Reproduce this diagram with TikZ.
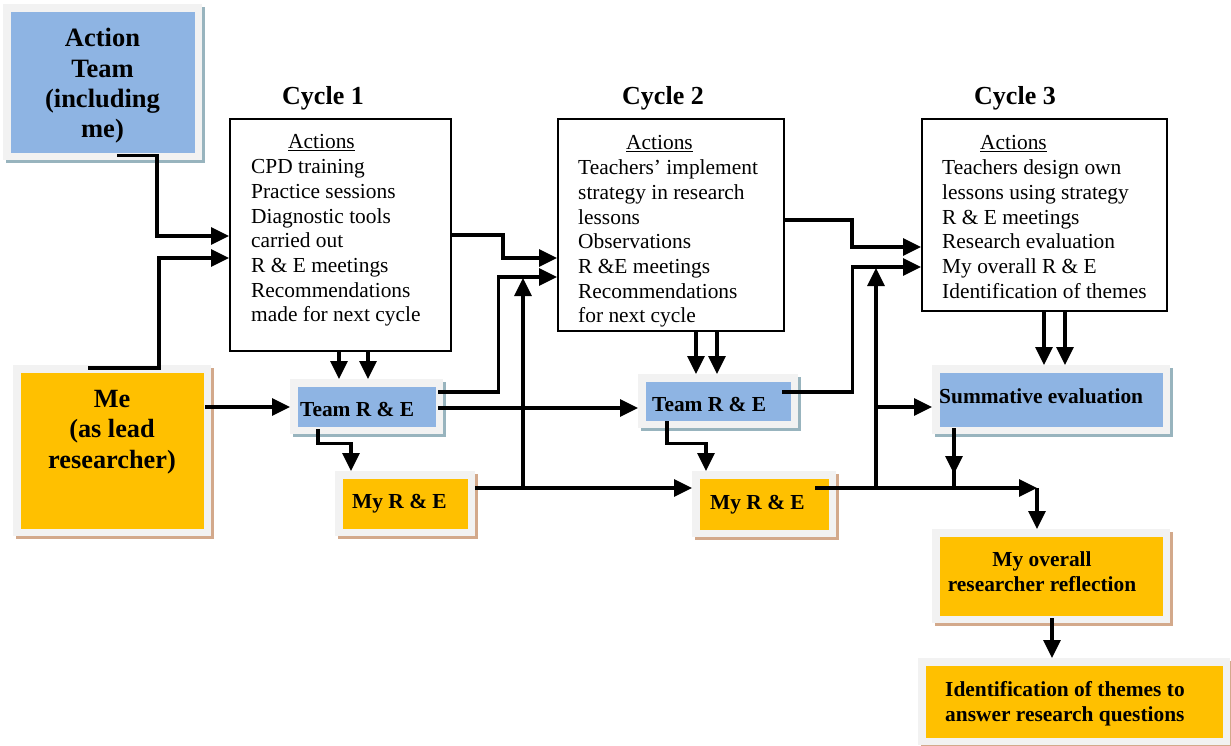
\documentclass[tikz,border=0pt]{standalone}
\usepackage{fontspec}
\setmainfont{Liberation Serif}
\usetikzlibrary{arrows.meta,shadows,calc}
\definecolor{boxblue}{HTML}{8EB4E3}
\definecolor{boxyellow}{HTML}{FFC000}
\definecolor{framegray}{HTML}{F2F2F2}
\definecolor{shblue}{HTML}{98B4BE}
\definecolor{shtan}{HTML}{D3A98B}
\tikzset{
  cbox/.style 2 args={draw=none, fill=framegray, inner sep=0pt, anchor=north west,
    general shadow={shadow xshift=3pt, shadow yshift=-3pt, fill=#2},
    path picture={\fill[#1] ([shift={(7.5pt,-7.5pt)}]path picture bounding box.north west)
      rectangle ([shift={(-7.5pt,7.5pt)}]path picture bounding box.south east);}},
  bluebox/.style={cbox={boxblue}{shblue}},
  yellowbox/.style={cbox={boxyellow}{shtan}},
  cyclebox/.style={draw, line width=2.4pt, fill=white, inner sep=0pt, anchor=north west},
  conn/.style={line width=3.2pt, -{Triangle[length=18pt,width=17pt]}},
  plainline/.style={line width=3.2pt},
  ltxt/.style={font=\rmfamily\fontsize{21.4}{24.7}\selectfont, inner sep=0pt, anchor=base west},
  btxt/.style={font=\rmfamily\bfseries\fontsize{21.4}{25}\selectfont, inner sep=0pt, anchor=base west},
  htxt/.style={font=\rmfamily\bfseries\fontsize{26}{30}\selectfont, inner sep=0pt, anchor=base},
}
\begin{document}
\begin{tikzpicture}[x=1pt,y=-1pt]
\useasboundingbox (0,0) rectangle (1231,746);

% coloured boxes
\node[bluebox, minimum width=199pt, minimum height=156pt] (at) at (3,4) {};
\node[yellowbox, minimum width=198pt, minimum height=171pt] (me) at (13,365) {};
\node[bluebox, minimum width=153pt, minimum height=55pt] (team1) at (290,379) {};
\node[yellowbox, minimum width=140pt, minimum height=65pt] (my1) at (335,471) {};
\node[bluebox, minimum width=160pt, minimum height=54pt] (team2) at (638,374) {};
\node[yellowbox, minimum width=144pt, minimum height=66pt] (my2) at (692,471) {};
\node[bluebox, minimum width=238pt, minimum height=69pt] (summ) at (932,365) {};
\node[yellowbox, minimum width=238pt, minimum height=94pt] (overall) at (932,529) {};
\node[yellowbox, minimum width=312pt, minimum height=87pt] (ident) at (918,658) {};

% cycle boxes
\node[cyclebox, minimum width=221pt, minimum height=232pt] (c1) at (229,118) {};
\node[cyclebox, minimum width=226pt, minimum height=212pt] (c2) at (557,118) {};
\node[cyclebox, minimum width=245pt, minimum height=192pt] (c3) at (921,118) {};

% headings
\node[htxt] (c1h) at (323,105) {Cycle 1};
\node[htxt] (c2h) at (663,105) {Cycle 2};
\node[htxt] (c3h) at (1015,105) {Cycle 3};

% cycle texts
\node[ltxt] (c1t) at (251,149) {\parbox[t]{240pt}{\hspace*{37pt}\underline{Actions}\\CPD training\\Practice sessions\\Diagnostic tools\\carried out\\R \& E meetings\\Recommendations\\made for next cycle}};
\node[ltxt] (c2t) at (578,150) {\parbox[t]{240pt}{\hspace*{48pt}\underline{Actions}\\Teachers’ implement\\strategy in research\\lessons\\Observations\\R \&E meetings\\Recommendations\\for next cycle}};
\node[ltxt] (c3t) at (942,150) {\parbox[t]{240pt}{\hspace*{38pt}\underline{Actions}\\Teachers design own\\lessons using strategy\\R \& E meetings\\Research evaluation\\My overall R \& E\\Identification of themes}};

% box texts
\node[inner sep=0pt, anchor=base] (att) at (102.5,47) {\parbox[t]{190pt}{\centering\rmfamily\bfseries\fontsize{26.5}{30.2}\selectfont Action\\Team\\(including\\me)}};
\node[inner sep=0pt, anchor=base] (met) at (112,407) {\parbox[t]{190pt}{\centering\rmfamily\bfseries\fontsize{26.3}{30.7}\selectfont Me\\(as lead\\researcher)}};
\node[btxt] (team1t) at (300,416) {Team R \& E};
\node[btxt] (my1t) at (352,508) {My R \& E};
\node[btxt] (team2t) at (652,411) {Team R \& E};
\node[btxt] (my2t) at (710,509) {My R \& E};
\node[btxt] (summt) at (939,403) {Summative evaluation};
\node[btxt, anchor=base] (overallt) at (1042,566) {\parbox[t]{230pt}{\centering My overall\\researcher reflection}};
\node[btxt] (identt) at (945,696) {\parbox[t]{280pt}{Identification of themes to\\answer research questions}};

% connectors
\draw[conn] ($(at.south west)+(114,-5)$) -- ++(40,0) |- (c1.west |- 0,236);
\draw[conn] ($(me.north west)+(75,3)$) -- ++(71,0) |- (c1.west |- 0,258);
\draw[conn] ($(me.north east)+(-6,42)$) -- (team1.west |- 0,407);
\draw[conn] (c1.south -| 339,0) -- (team1.north -| 339,0);
\draw[conn] (c1.south -| 368,0) -- (team1.north -| 368,0);
\draw[conn] ($(team1.south west)+(28,-5)$) -- ++(0,14) -| (my1.north -| 351,0);
\draw[conn] ($(team1.north east)+(-5,13)$) -- ++(60,0) |- (c2.west |- 0,277);
\draw[conn] (c1.east |- 0,235) -| (503,258) -- (c2.west |- 0,258);
\draw[conn] ($(team1.north east)+(-5,29)$) -- (team2.west |- 0,408);
\draw[conn] (my1.east |- 0,488) -- (my2.west |- 0,488);
\coordinate (j1) at (523,488);
\draw[conn] (j1) -- (j1 |- 0,278);

\draw[conn] (c2.south -| 696,0) -- (team2.north -| 696,0);
\draw[conn] (c2.south -| 717,0) -- (team2.north -| 717,0);
\draw[conn] ($(team2.south west)+(29,-7)$) -- ++(0,22) -| (my2.north -| 706,0);
\draw[conn] (c2.east |- 0,220) -| (852,247) -- (c3.west |- 0,247);
\draw[conn] ($(team2.north east)+(-16,18)$) -- ++(70,0) |- (c3.west |- 0,267);

\coordinate (j3) at (1037,488);
\draw[conn] ($(my2.north east)+(-21,17)$) -- (j3);
\draw[conn] (j3) -- (overall.north -| j3);
\coordinate (j2) at (876,488);
\draw[conn] (j2) -- (j2 |- 0,268);
\coordinate (j2b) at (876,407);
\draw[conn] (j2b) -- (summ.west |- j2b);

\draw[conn] (c3.south -| 1044,0) -- (summ.north -| 1044,0);
\draw[conn] (c3.south -| 1065,0) -- (summ.north -| 1065,0);

\coordinate (j4) at (954,488);
\draw[plainline] ($(summ.south west)+(22,-6)$) -- (j4);
\draw[conn] ($(summ.south west)+(22,-6)$) -- ($(j4)+(0,-14)$);

\draw[conn] ($(overall.south west)+(120,-5)$) -- (ident.north -| 1052,0);
\end{tikzpicture}
\end{document}
